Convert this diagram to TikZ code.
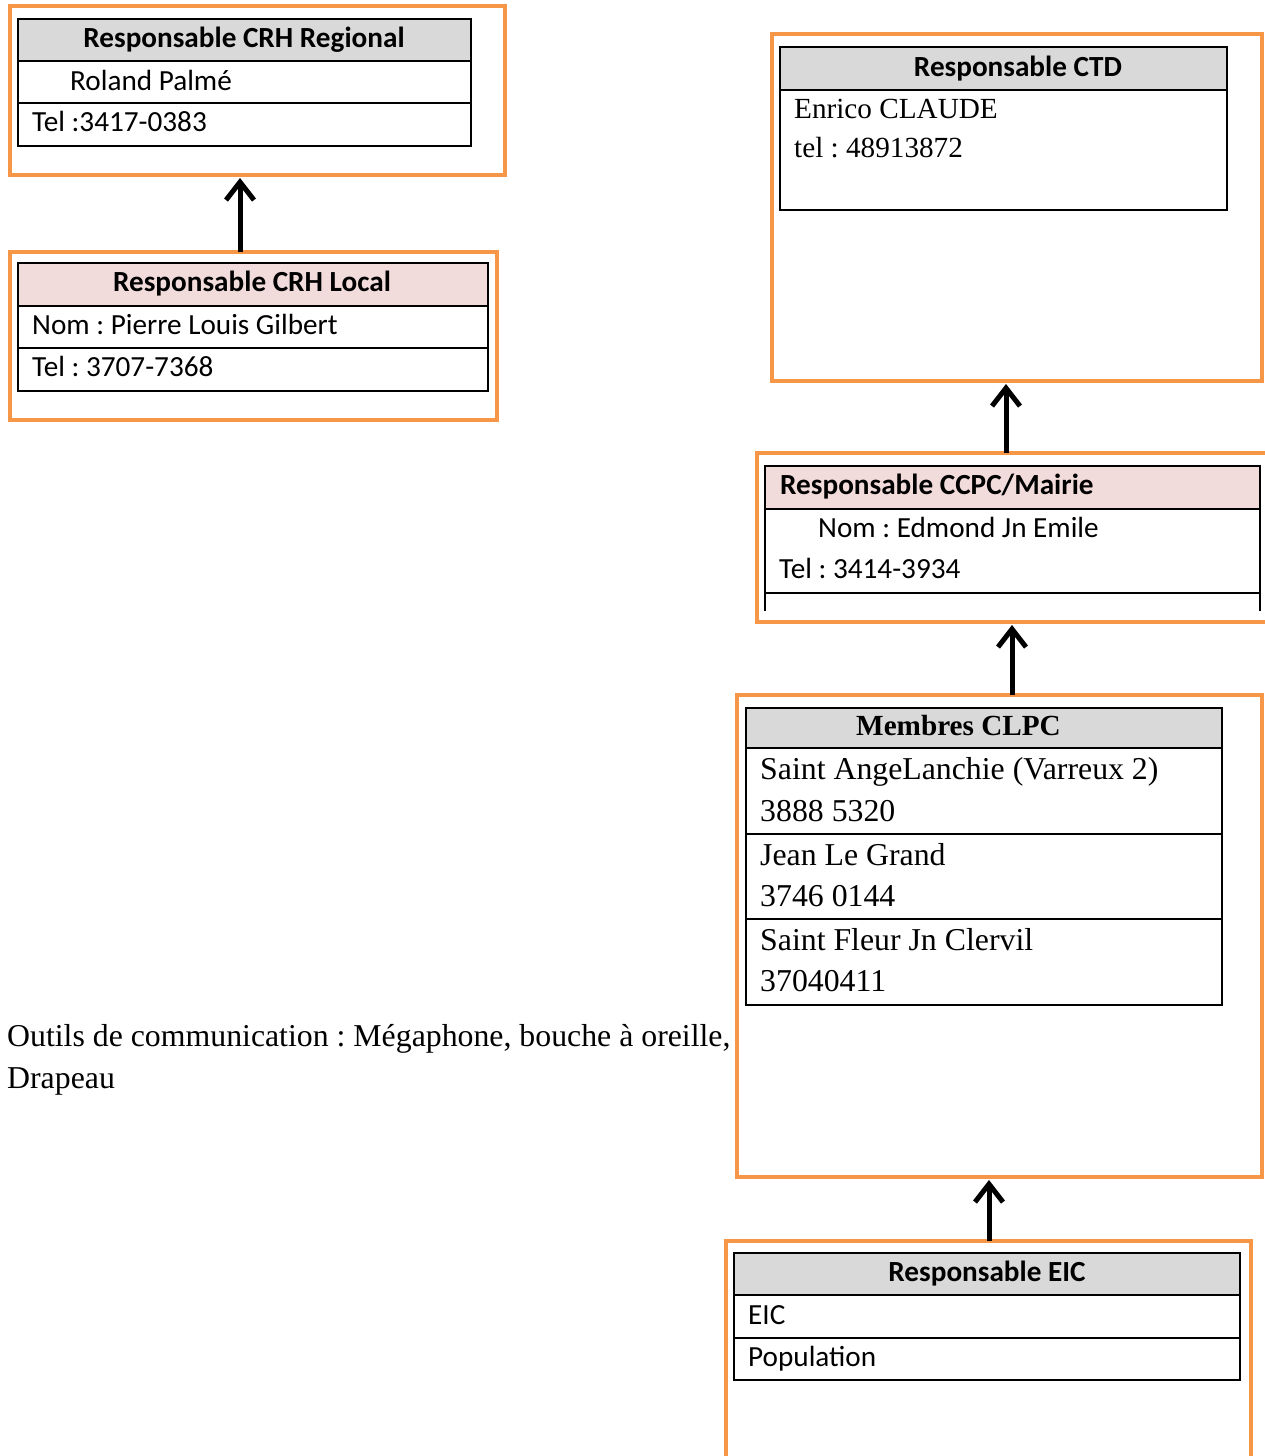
\documentclass[tikz,border=0pt]{standalone}
\usepackage{fontspec}
\setmainfont{Liberation Serif}
\newfontfamily\calfont{Carlito}
\usetikzlibrary{arrows.meta}
\definecolor{orangeC}{HTML}{F79646}
\definecolor{grayC}{HTML}{D9D9D9}
\definecolor{pinkC}{HTML}{F2DCDB}
\frenchspacing
\tikzset{
  obox/.style={draw=orangeC, line width=4.5pt, inner sep=0pt, outer sep=0pt, anchor=north west},
  cell/.style={draw=black, line width=2pt, inner sep=0pt, outer sep=0pt, anchor=north west},
  hgray/.style={cell, fill=grayC},
  hpink/.style={cell, fill=pinkC},
  ctxt/.style={inner sep=0pt, anchor=base west, font=\calfont\fontsize{29.2}{35}\selectfont},
  cboldc/.style={inner sep=0pt, anchor=base, font=\calfont\bfseries\fontsize{29.2}{35}\selectfont},
  cboldl/.style={inner sep=0pt, anchor=base west, font=\calfont\bfseries\fontsize{29.2}{35}\selectfont},
  ttxt/.style={inner sep=0pt, anchor=base west, font=\fontsize{31.8}{38}\selectfont},
  tsmall/.style={inner sep=0pt, anchor=base west, font=\fontsize{29.2}{35}\selectfont},
  tboldc/.style={inner sep=0pt, anchor=base, font=\bfseries\fontsize{29.2}{35}\selectfont},
  arr/.style={-{Straight Barb[length=18pt,width=28pt]}, line width=5pt}
}
\begin{document}
\begin{tikzpicture}[x=1pt,y=-1pt]
\clip (0,0) rectangle (1265,1456);
\fill[white] (0,0) rectangle (1265,1456);

% ---- Box 1: Responsable CRH Regional
\node[obox, minimum width=495pt, minimum height=169pt] (b1) at (10,6) {};
\node[hgray, minimum width=453pt, minimum height=42pt] (b1h) at (18,19) {};
\node[cell, minimum width=453pt, minimum height=42pt] (b1r1) at (18,61) {};
\node[cell, minimum width=453pt, minimum height=43pt] (b1r2) at (18,103) {};
\node[cboldc] (t1h) at (244,47) {Responsable CRH Regional};
\node[ctxt] (t1a) at (70,90) {Roland Palmé};
\node[ctxt] (t1b) at (32,131.7) {Tel :3417-0383};

% ---- Box 2: Responsable CRH Local
\node[obox, minimum width=487pt, minimum height=168pt] (b2) at (10,252) {};
\node[hpink, minimum width=470pt, minimum height=43pt] (b2h) at (18,263) {};
\node[cell, minimum width=470pt, minimum height=42pt] (b2r1) at (18,306) {};
\node[cell, minimum width=470pt, minimum height=43pt] (b2r2) at (18,348) {};
\node[cboldc] (t2h) at (252,291.7) {Responsable CRH Local};
\node[ctxt] (t2a) at (32,334) {Nom : Pierre Louis Gilbert};
\node[ctxt] (t2b) at (32,376.7) {Tel : 3707-7368};

% ---- Box 3: Responsable CTD
\node[obox, minimum width=490pt, minimum height=347pt] (b3) at (772,34) {};
\node[hgray, minimum width=447pt, minimum height=43pt] (b3h) at (780,47) {};
\node[cell, minimum width=447pt, minimum height=120pt] (b3r1) at (780,90) {};
\node[cboldc] (t3h) at (1018,76) {Responsable CTD};
\node[tsmall] (t3a) at (794,118) {Enrico CLAUDE};
\node[tsmall] (t3b) at (794,157) {tel : 48913872};

% ---- Box 4: Responsable CCPC/Mairie
\node[obox, minimum width=515pt, minimum height=169pt] (b4) at (757,453) {};
\node[hpink, minimum width=495pt, minimum height=43pt] (b4h) at (765,466) {};
\coordinate (b4bl) at (765,611);
\coordinate (b4br) at (1260,611);
\coordinate (b4ml) at (765,593);
\coordinate (b4mr) at (1260,593);
\draw[line width=2pt] (b4h.south west) -- (b4bl);
\draw[line width=2pt] (b4h.south east) -- (b4br);
\draw[line width=2pt] (b4ml) -- (b4mr);
\node[cboldl] (t4h) at (780,494.3) {Responsable CCPC/Mairie};
\node[ctxt] (t4a) at (818,537) {Nom : Edmond Jn Emile};
\node[ctxt] (t4b) at (779,578) {Tel : 3414-3934};

% ---- Box 5: Membres CLPC
\node[obox, minimum width=525pt, minimum height=482pt] (b5) at (737,695) {};
\node[hgray, minimum width=476pt, minimum height=40pt] (b5h) at (746,708) {};
\node[cell, minimum width=476pt, minimum height=86pt] (b5r1) at (746,748) {};
\node[cell, minimum width=476pt, minimum height=85pt] (b5r2) at (746,834) {};
\node[cell, minimum width=476pt, minimum height=86pt] (b5r3) at (746,919) {};
\node[tboldc] (t5h) at (958.5,735.7) {Membres CLPC};
\node[ttxt] (t5a) at (760,779.3) {Saint AngeLanchie (Varreux 2)};
\node[ttxt] (t5b) at (760,821) {3888 5320};
\node[ttxt] (t5c) at (760,865) {Jean Le Grand};
\node[ttxt] (t5d) at (760,906.7) {3746 0144};
\node[ttxt] (t5e) at (760,950) {Saint Fleur Jn Clervil};
\node[ttxt] (t5f) at (760,991.7) {37040411};

% ---- Box 6: Responsable EIC
\node[obox, minimum width=525pt, minimum height=240pt] (b6) at (726,1241) {};
\node[hgray, minimum width=506pt, minimum height=42pt] (b6h) at (734,1253) {};
\node[cell, minimum width=506pt, minimum height=43pt] (b6r1) at (734,1295) {};
\node[cell, minimum width=506pt, minimum height=42pt] (b6r2) at (734,1338) {};
\node[cboldc] (t6h) at (987,1281.7) {Responsable EIC};
\node[ctxt] (t6a) at (748,1324) {EIC};
\node[ctxt] (t6b) at (748,1366) {Population};

% ---- Free text
\node[ttxt] (out1) at (7,1046) {Outils de communication : Mégaphone, bouche à oreille,};
\node[ttxt] (out2) at (7,1088) {Drapeau};

% ---- Arrows
\coordinate (ax1) at (240,0);
\coordinate (ax2) at (1006,0);
\coordinate (ax3) at (1012,0);
\coordinate (ax4) at (989,0);
\draw[arr, shorten >=3pt] (ax1 |- b2.north) -- (ax1 |- b1.south);
\draw[arr, shorten >=3pt] (ax2 |- b4.north) -- (ax2 |- b3.south);
\draw[arr, shorten >=3pt] (ax3 |- b5.north) -- (ax3 |- b4.south);
\draw[arr, shorten >=3pt] (ax4 |- b6.north) -- (ax4 |- b5.south);
\end{tikzpicture}
\end{document}
